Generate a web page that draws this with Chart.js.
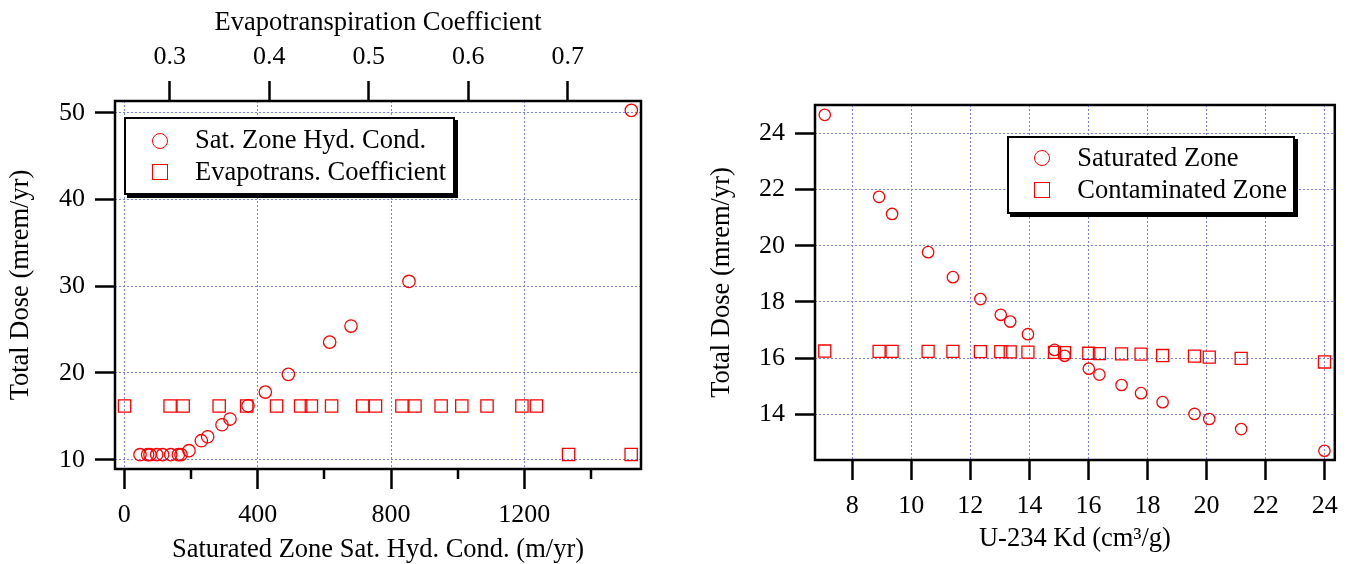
<!DOCTYPE html>
<html>
<head>
<meta charset="utf-8">
<script src="https://cdn.jsdelivr.net/npm/chart.js@4/dist/chart.umd.min.js"></script>
<style>
html,body{margin:0;padding:0;background:#fff;width:1349px;height:564px;overflow:hidden;}
.wrap{position:absolute;top:0;}
.legend{position:absolute;background:#fff;border:2px solid #000;box-shadow:3px 3px 0 #000;box-sizing:border-box;font-family:'Liberation Serif',serif;font-size:26.5px;line-height:26.5px;color:#000;}
.legend .txt{position:absolute;white-space:nowrap;}
.legend .mk{position:absolute;box-sizing:border-box;border:1.5px solid #f00;width:16px;height:16px;}
</style>
</head>
<body>
<div class="wrap" style="left:0;width:680px;height:564px;"><canvas id="c1" width="680" height="564"></canvas></div>
<div class="wrap" style="left:680px;width:669px;height:564px;"><canvas id="c2" width="669" height="564"></canvas></div>
<div class="legend" id="leg1" style="left:124px;top:117px;width:331px;height:78px;"></div>
<div class="legend" id="leg2" style="left:1007px;top:135.5px;width:288px;height:78.5px;"></div>
<script>
// ---------- Left chart data ----------
const satHydCond = [47, 70, 77, 97, 115, 139, 162, 170, 194, 231, 250, 293, 317, 371, 423, 492, 616, 680, 854, 1521];
const satHydDose = [10.58, 10.58, 10.58, 10.58, 10.58, 10.58, 10.58, 10.58, 11.04, 12.19, 12.65, 14.03, 14.69, 16.22, 17.8, 19.84, 23.56, 25.41, 30.55, 50.27];
const evapCoef = [0.2546, 0.3004, 0.3135, 0.3497, 0.3774, 0.4074, 0.4316, 0.4424, 0.4627, 0.4939, 0.5068, 0.5334, 0.5465, 0.5728, 0.5936, 0.6189, 0.6540, 0.6686, 0.7009, 0.7638];
const evapDose = [16.2, 16.2, 16.2, 16.2, 16.2, 16.2, 16.2, 16.2, 16.2, 16.2, 16.2, 16.2, 16.2, 16.2, 16.2, 16.2, 16.2, 16.2, 10.6, 10.6];
const leftSeriesLabels = ['Sat. Zone Hyd. Cond.', 'Evapotrans. Coefficient'];
const leftXTicks = [0, 400, 800, 1200];
const leftXTickLabels = ['0', '400', '800', '1200'];
const leftXMinorTicks = [200, 600, 1000, 1400];
const leftX2Ticks = [0.3, 0.4, 0.5, 0.6, 0.7];
const leftX2TickLabels = ['0.3', '0.4', '0.5', '0.6', '0.7'];
const leftYTicks = [10, 20, 30, 40, 50];
const leftYTickLabels = ['10', '20', '30', '40', '50'];
const leftXTitle = 'Saturated Zone Sat. Hyd. Cond. (m/yr)';
const leftX2Title = 'Evapotranspiration Coefficient';
const leftYTitle = 'Total Dose (mrem/yr)';

// ---------- Right chart data ----------
const u234Kd = [7.07, 8.91, 9.35, 10.57, 11.41, 12.34, 13.03, 13.35, 13.95, 14.85, 15.19, 16.01, 16.37, 17.12, 17.78, 18.51, 19.59, 20.09, 21.17, 23.99];
const saturatedZone = [24.66, 21.74, 21.13, 19.77, 18.88, 18.10, 17.54, 17.30, 16.85, 16.29, 16.08, 15.62, 15.41, 15.04, 14.75, 14.43, 14.01, 13.83, 13.47, 12.70];
const contaminatedZone = [16.25, 16.24, 16.24, 16.24, 16.24, 16.23, 16.23, 16.22, 16.21, 16.20, 16.19, 16.17, 16.16, 16.15, 16.14, 16.09, 16.07, 16.03, 15.99, 15.86];
const rightSeriesLabels = ['Saturated Zone', 'Contaminated Zone'];
const rightXTicks = [8, 10, 12, 14, 16, 18, 20, 22, 24];
const rightXTickLabels = ['8', '10', '12', '14', '16', '18', '20', '22', '24'];
const rightYTicks = [14, 16, 18, 20, 22, 24];
const rightYTickLabels = ['14', '16', '18', '20', '22', '24'];
const rightXTitle = 'U-234 Kd (cm\u00B3/g)';
const rightYTitle = 'Total Dose (mrem/yr)';

// ---------- Styling ----------
const FONT = 'Liberation Serif';
const RED = '#ff0000';
const GRID = 'rgb(125,125,255)';
const tickFont = {family: FONT, size: 26};
const titleFont = {family: FONT, size: 26.5, lineHeight: 1};

function fixedTicks(values) {
  return s => { s.ticks = values.map(v => ({value: v})); };
}

const framePlugin = {
  id: 'frame',
  afterDraw(chart) {
    const a = chart.chartArea, ctx = chart.ctx;
    ctx.save();
    ctx.strokeStyle = '#000';
    ctx.lineWidth = 2.5;
    ctx.strokeRect(a.left, a.top, a.right - a.left, a.bottom - a.top);
    ctx.restore();
  }
};

const minorTickPlugin = {
  id: 'minorTicks',
  afterDraw(chart, args, opts) {
    if (!opts || !opts.values) return;
    const s = chart.scales[opts.axis];
    const ctx = chart.ctx, b = chart.chartArea.bottom;
    ctx.save();
    ctx.strokeStyle = '#000';
    ctx.lineWidth = 2.5;
    for (const v of opts.values) {
      const px = Math.round(s.getPixelForValue(v));
      ctx.beginPath();
      ctx.moveTo(px, b);
      ctx.lineTo(px, b + 10);
      ctx.stroke();
    }
    ctx.restore();
  }
};

function axis(opts) {
  return Object.assign({
    type: 'linear',
    ticks: {font: tickFont, color: '#000', padding: 10, maxRotation: 0, autoSkip: false},
    grid: {color: GRID, lineWidth: 1, tickColor: '#000', tickWidth: 2.5, tickLength: 20},
    border: {display: false, dash: [2, 2]}
  }, opts);
}

// ---------- Left chart ----------
new Chart(document.getElementById('c1'), {
  type: 'scatter',
  data: {
    datasets: [
      {
        label: leftSeriesLabels[0],
        data: satHydCond.map((x, i) => ({x: x, y: satHydDose[i]})),
        xAxisID: 'x', yAxisID: 'y',
        pointStyle: 'circle', pointRadius: 6.2, borderWidth: 1.3,
        borderColor: RED, backgroundColor: 'rgba(0,0,0,0)', clip: false
      },
      {
        label: leftSeriesLabels[1],
        data: evapCoef.map((x, i) => ({x: x, y: evapDose[i]})),
        xAxisID: 'x2', yAxisID: 'y',
        pointStyle: 'rect', pointRadius: 8.7, borderWidth: 1.3,
        borderColor: RED, backgroundColor: 'rgba(0,0,0,0)', clip: false
      }
    ]
  },
  options: {
    responsive: false, animation: false, events: [],
    layout: {padding: {left: 0, top: 0, right: 39, bottom: 0}},
    plugins: {legend: {display: false}, tooltip: {enabled: false},
      minorTicks: {axis: 'x', values: leftXMinorTicks}},
    scales: {
      x: axis({
        position: 'bottom', min: -28, max: 1550,
        afterBuildTicks: fixedTicks(leftXTicks),
        afterFit: s => { s.height = 95; },
        ticks: {font: tickFont, color: '#000', padding: 11, maxRotation: 0, autoSkip: false,
          callback: (v, i) => leftXTickLabels[i]},
        title: {display: true, text: leftXTitle, font: titleFont, color: '#000', padding: {top: 0, bottom: 0.75}}
      }),
      x2: axis({
        position: 'top', min: 0.245, max: 0.7737,
        afterBuildTicks: fixedTicks(leftX2Ticks),
        afterFit: s => { s.height = 101; },
        ticks: {font: tickFont, color: '#000', padding: 8, maxRotation: 0, autoSkip: false,
          callback: (v, i) => leftX2TickLabels[i]},
        grid: {drawOnChartArea: false, color: GRID, tickColor: '#000', tickWidth: 2.5, tickLength: 20},
        title: {display: true, text: leftX2Title, font: titleFont, color: '#000', padding: {top: 9.75, bottom: 0}}
      }),
      y: axis({
        position: 'left', min: 8.93, max: 51.35,
        afterBuildTicks: fixedTicks(leftYTicks),
        afterFit: s => { s.width = 115; },
        ticks: {font: tickFont, color: '#000', padding: 10, autoSkip: false,
          callback: (v, i) => leftYTickLabels[i]},
        title: {display: true, text: leftYTitle, font: titleFont, color: '#000', padding: {top: 8.25, bottom: 0}}
      })
    }
  },
  plugins: [framePlugin, minorTickPlugin]
});

// ---------- Right chart ----------
new Chart(document.getElementById('c2'), {
  type: 'scatter',
  data: {
    datasets: [
      {
        label: rightSeriesLabels[0],
        data: u234Kd.map((x, i) => ({x: x, y: saturatedZone[i]})),
        pointStyle: 'circle', pointRadius: 5.7, borderWidth: 1.3,
        borderColor: RED, backgroundColor: 'rgba(0,0,0,0)', clip: false
      },
      {
        label: rightSeriesLabels[1],
        data: u234Kd.map((x, i) => ({x: x, y: contaminatedZone[i]})),
        pointStyle: 'rect', pointRadius: 8.5, borderWidth: 1.3,
        borderColor: RED, backgroundColor: 'rgba(0,0,0,0)', clip: false
      }
    ]
  },
  options: {
    responsive: false, animation: false, events: [],
    layout: {padding: {left: 0, top: 105, right: 13, bottom: 0}},
    plugins: {legend: {display: false}, tooltip: {enabled: false}},
    scales: {
      x: axis({
        position: 'bottom', min: 6.74, max: 24.34,
        afterBuildTicks: fixedTicks(rightXTicks),
        afterFit: s => { s.height = 104; },
        ticks: {font: tickFont, color: '#000', padding: 11, maxRotation: 0, autoSkip: false,
          callback: (v, i) => rightXTickLabels[i]},
        title: {display: true, text: rightXTitle, font: titleFont, color: '#000', padding: {top: 0, bottom: 11.4}}
      }),
      y: axis({
        position: 'left', min: 12.37, max: 25.01,
        afterBuildTicks: fixedTicks(rightYTicks),
        afterFit: s => { s.width = 135; },
        ticks: {font: tickFont, color: '#000', padding: 10, autoSkip: false,
          callback: (v, i) => rightYTickLabels[i]},
        title: {display: true, text: rightYTitle, font: titleFont, color: '#000', padding: {top: 28.5, bottom: 0}}
      })
    }
  },
  plugins: [framePlugin]
});

// ---------- Legends (HTML text) ----------
function buildLegend(el, labels, layout) {
  labels.forEach((lab, i) => {
    const mk = document.createElement('div');
    mk.className = 'mk';
    mk.style.left = layout.mkLeft + 'px';
    mk.style.top = layout.mkTops[i] + 'px';
    if (i === 0) mk.style.borderRadius = '50%';
    el.appendChild(mk);
    const t = document.createElement('div');
    t.className = 'txt';
    t.textContent = lab;
    t.style.left = layout.txtLeft + 'px';
    t.style.top = layout.txtTops[i] + 'px';
    el.appendChild(t);
  });
}
buildLegend(document.getElementById('leg1'), leftSeriesLabels,
  {mkLeft: 25.7, mkTops: [13.7, 45.3], txtLeft: 69, txtTops: [6.8, 38.8]});
buildLegend(document.getElementById('leg2'), rightSeriesLabels,
  {mkLeft: 25.3, mkTops: [12.8, 44.5], txtLeft: 68.3, txtTops: [6.3, 38.6]});
</script>
</body>
</html>
